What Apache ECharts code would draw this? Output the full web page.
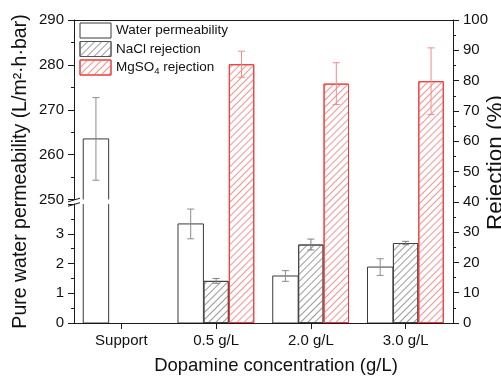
<!DOCTYPE html>
<html><head><meta charset="utf-8">
<script src="https://cdn.jsdelivr.net/npm/echarts@6/dist/echarts.min.js"></script>
<style>html,body{margin:0;padding:0;background:#fff}#c{width:501px;height:378px}</style>
</head><body><div id="c"></div>
<script>
// ---- data ----
const categories = ['Support', '0.5 g/L', '2.0 g/L', '3.0 g/L'];
const waterPerm = [263.5, 3.33, 1.58, 1.88];
const waterErr  = [9.2, 0.5, 0.18, 0.28];
const naclRej   = [null, 13.9, 25.9, 26.4];
const naclErr   = [null, 0.8, 1.8, 0.55];
const mgso4Rej  = [null, 85.4, 79.0, 79.8];
const mgso4Err  = [null, 4.3, 6.9, 11.0];
const upperTicks = [250, 260, 270, 280, 290];
const lowerTicks = [0, 1, 2, 3];
const lowerBreak = 4;
const rejTicks = [0, 10, 20, 30, 40, 50, 60, 70, 80, 90, 100];

// ---- layout / style ----
const FONT = 'Liberation Sans, Arial, sans-serif';
const L = 74, R = 48, T = 20, B = 55;
const GAP = 0.195;
const AX = '#1a1a1a';

const chart = echarts.init(document.getElementById('c'), null, {renderer: 'canvas'});

function toTriples(vals, errs) {
  const out = [];
  vals.forEach((v, i) => { if (v != null) out.push([i, v, errs[i]]); });
  return out;
}
function barItem(slot, fill, stroke) {
  return function (params, api) {
    const idx = api.value(0), v = api.value(1);
    const band = api.size([1, 0])[0];
    const bw = band * (1 - GAP) / 3;
    const base = api.coord([idx, 0]);
    const top = api.coord([idx, v]);
    const cx = base[0] + (slot - 1) * bw;
    return {type: 'rect', shape: {x: cx - bw / 2, y: top[1], width: bw, height: base[1] - top[1]},
      style: {fill: fill, stroke: stroke, lineWidth: 1}};
  };
}
function errItem(slot, color) {
  return function (params, api) {
    const idx = api.value(0), v = api.value(1), e = api.value(2);
    const band = api.size([1, 0])[0];
    const bw = band * (1 - GAP) / 3;
    const cx = api.coord([idx, v])[0] + (slot - 1) * bw;
    const yh = api.coord([idx, v + e])[1], yl = api.coord([idx, v - e])[1];
    const cap = 3.5, st = {stroke: color, lineWidth: 1};
    return {type: 'group', children: [
      {type: 'line', shape: {x1: cx, y1: yh, x2: cx, y2: yl}, style: st},
      {type: 'line', shape: {x1: cx - cap, y1: yh, x2: cx + cap, y2: yh}, style: st},
      {type: 'line', shape: {x1: cx - cap, y1: yl, x2: cx + cap, y2: yl}, style: st}
    ]};
  };
}
const hatch = (c) => ({symbol: 'rect', symbolSize: 1, color: c, dashArrayX: [1, 0], dashArrayY: [1, 3.5], rotation: -Math.PI / 4});

const tickLbl = {fontFamily: FONT, fontSize: 15, color: '#111'};
const baseY = {
  type: 'value', splitLine: {show: false},
  axisLine: {show: true, lineStyle: {color: AX, width: 1}},
  axisTick: {show: true, length: 6, lineStyle: {color: AX}},
  minorTick: {show: true, splitNumber: 2, length: 3, lineStyle: {color: AX}},
  axisLabel: Object.assign({margin: 10}, tickLbl)
};
const barCommon = {barGap: '0%', barCategoryGap: (GAP * 100) + '%', xAxisIndex: 0, yAxisIndex: 0};

const waterData = toTriples(waterPerm, waterErr);
const option = {
  animation: false,
  backgroundColor: '#fff',
  textStyle: {fontFamily: FONT},
  grid: [
    {left: L, right: R, top: T, bottom: B, outerBoundsMode: 'none', containLabel: false},
    {left: L, right: R, top: 204, bottom: B, outerBoundsMode: 'none', containLabel: false},
    {left: L, right: R, top: T, height: 179.5, outerBoundsMode: 'none', containLabel: false}
  ],
  xAxis: [
    {type: 'category', gridIndex: 0, data: categories,
      axisLine: {show: true, lineStyle: {color: AX}},
      axisTick: {show: true, alignWithLabel: true, length: 6, lineStyle: {color: AX}},
      axisLabel: Object.assign({margin: 10}, tickLbl),
      name: 'Dopamine concentration (g/L)', nameLocation: 'middle', nameGap: 33, nameMoveOverlap: false,
      nameTextStyle: {fontFamily: FONT, fontSize: 18.5, color: '#111', padding: [0, 0, 0, 25]}},
    {type: 'category', gridIndex: 1, data: categories, show: false},
    {type: 'category', gridIndex: 2, data: categories, position: 'top',
      axisLine: {show: true, lineStyle: {color: AX}}, axisTick: {show: false}, axisLabel: {show: false}}
  ],
  yAxis: [
    Object.assign({}, baseY, {gridIndex: 0, position: 'right', min: rejTicks[0], max: rejTicks[rejTicks.length - 1],
      interval: rejTicks[1] - rejTicks[0],
      name: 'Rejection (%)', nameLocation: 'middle', nameGap: 31, nameMoveOverlap: false,
      nameTextStyle: {fontFamily: FONT, fontSize: 22.5, color: '#111', padding: [0, 0, 0, 18]}}),
    Object.assign({}, baseY, {gridIndex: 1, position: 'left', min: lowerTicks[0], max: lowerBreak,
      interval: lowerTicks[1] - lowerTicks[0],
      axisLabel: Object.assign({margin: 10, showMaxLabel: false}, tickLbl)}),
    Object.assign({}, baseY, {gridIndex: 2, position: 'left', min: upperTicks[0], max: upperTicks[upperTicks.length - 1],
      interval: upperTicks[1] - upperTicks[0]}),
    {type: 'value', gridIndex: 0, position: 'left', min: 0, max: 1,
      axisLine: {show: false}, axisTick: {show: false}, axisLabel: {show: false}, splitLine: {show: false},
      name: 'Pure water permeability (L/m²·h·bar)', nameLocation: 'middle', nameGap: 43, nameMoveOverlap: false,
      nameTextStyle: {fontFamily: FONT, fontSize: 19.5, color: '#111'}}
  ],
  legend: {
    orient: 'vertical', left: 79.5, top: 22.5, padding: 0, itemGap: 2.5,
    itemWidth: 31, itemHeight: 15,
    textStyle: {fontFamily: FONT, fontSize: 13.5, color: '#111',
      rich: {sub: {fontFamily: FONT, fontSize: 9.5, color: '#111', padding: [7, 0, 0, 0]}}},
    formatter: (n) => n === 'MgSO4 rejection' ? 'MgSO{sub|4} rejection' : n,
    data: [
      {name: 'Water permeability', icon: 'rect', itemStyle: {color: '#fff', borderColor: '#3a3a3a', borderWidth: 1}},
      {name: 'NaCl rejection', icon: 'rect', itemStyle: {borderColor: '#555', borderWidth: 1}},
      {name: 'MgSO4 rejection', icon: 'rect', itemStyle: {borderColor: '#ee3a3a', borderWidth: 1}}
    ]
  },
  series: [
    Object.assign({type: 'bar', name: 'slot', data: categories.map(() => 0), silent: true,
      itemStyle: {color: 'rgba(0,0,0,0)', borderWidth: 0}}, barCommon),
    Object.assign({type: 'bar', name: 'NaCl rejection', data: naclRej.map(v => v == null ? '-' : v),
      itemStyle: {color: '#fff', borderColor: '#444', borderWidth: 1, decal: hatch('#9a9a9a')}}, barCommon),
    Object.assign({type: 'bar', name: 'MgSO4 rejection', data: mgso4Rej.map(v => v == null ? '-' : v),
      itemStyle: {color: '#fff', borderColor: '#ee3a3a', borderWidth: 1, decal: hatch('#f39494')}}, barCommon),
    {type: 'custom', name: 'Water permeability', xAxisIndex: 1, yAxisIndex: 1, clip: true, z: 2,
      itemStyle: {color: '#fff'}, renderItem: barItem(0, '#fff', '#3a3a3a'), data: waterData},
    {type: 'custom', name: 'Water permeability', xAxisIndex: 2, yAxisIndex: 2, clip: true, z: 2,
      itemStyle: {color: '#fff'}, renderItem: barItem(0, '#fff', '#3a3a3a'), data: waterData},
    {type: 'custom', name: 'errW1', xAxisIndex: 1, yAxisIndex: 1, clip: true, z: 5,
      renderItem: errItem(0, '#8c8c8c'), data: waterData},
    {type: 'custom', name: 'errW2', xAxisIndex: 2, yAxisIndex: 2, clip: true, z: 5,
      renderItem: errItem(0, '#8c8c8c'), data: waterData},
    {type: 'custom', name: 'errN', xAxisIndex: 0, yAxisIndex: 0, z: 5,
      renderItem: errItem(1, '#808080'), data: toTriples(naclRej, naclErr)},
    {type: 'custom', name: 'errM', xAxisIndex: 0, yAxisIndex: 0, z: 5,
      renderItem: errItem(2, '#f18a8a'), data: toTriples(mgso4Rej, mgso4Err)}
  ]
};
chart.setOption(option);

// axis-break marks on the left axis, placed from the two axis ends
const yUp = chart.convertToPixel({yAxisIndex: 2}, upperTicks[0]);
const yLo = chart.convertToPixel({yAxisIndex: 1}, lowerBreak);
const sl = (y) => ({type: 'line', shape: {x1: L - 6, y1: y + 1.8, x2: L + 6, y2: y - 1.8},
  style: {stroke: AX, lineWidth: 1}, z: 10});
chart.setOption({graphic: [sl(yUp + 0.5), sl(yLo + 0.5)]});
</script></body></html>
